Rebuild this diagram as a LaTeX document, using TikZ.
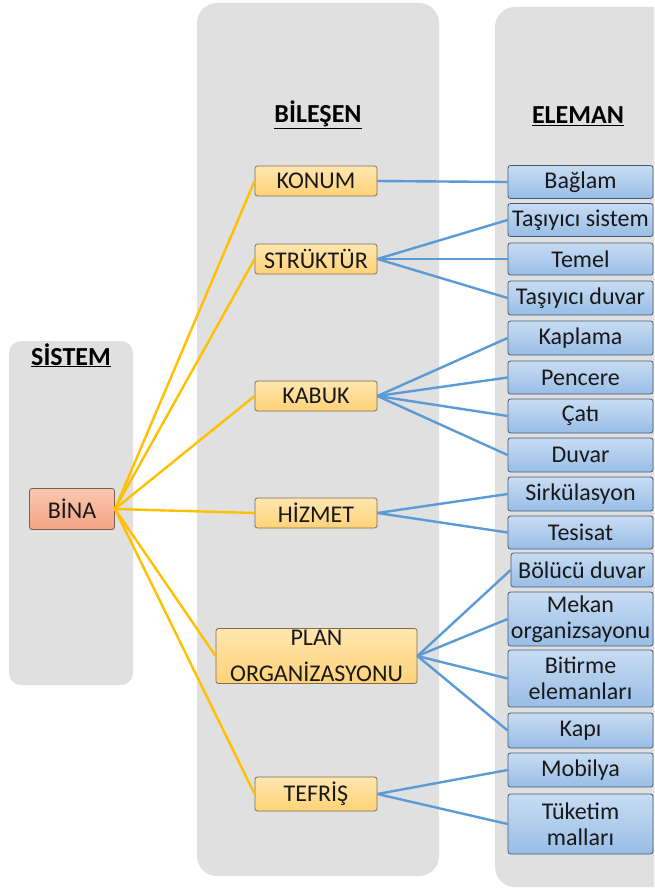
\documentclass[tikz,border=0pt]{standalone}
\usepackage{fontspec}
\setmainfont{Carlito}
\definecolor{panelgray}{RGB}{224,224,224}
\definecolor{linkorange}{RGB}{255,192,0}
\definecolor{linkblue}{RGB}{91,155,213}
\definecolor{compTop}{RGB}{255,230,176}
\definecolor{compBot}{RGB}{255,210,120}
\definecolor{compLine}{RGB}{128,110,80}
\definecolor{elemTop}{RGB}{200,220,243}
\definecolor{elemBot}{RGB}{152,189,230}
\definecolor{elemLine}{RGB}{70,90,115}
\definecolor{sysTop}{RGB}{250,200,176}
\definecolor{sysBot}{RGB}{243,163,130}
\definecolor{sysLine}{RGB}{120,95,85}
\begin{document}
\begin{tikzpicture}[x=1pt,y=-1pt,
  boxtext/.style={font=\fontsize{24}{26}\selectfont, text=black!90, inner sep=0pt, align=center},
  compbox/.style={boxtext, draw=compLine, line width=0.8pt, rounded corners=2.5pt,
    top color=compTop, bottom color=compBot, minimum width=122pt, minimum height=30pt},
  elembox/.style={boxtext, draw=elemLine, line width=0.8pt, rounded corners=2.5pt,
    top color=elemTop, bottom color=elemBot, minimum width=145pt, minimum height=33pt},
  sysbox/.style={boxtext, draw=sysLine, line width=0.8pt, rounded corners=2.5pt,
    top color=sysTop, bottom color=sysBot, minimum width=85pt, minimum height=41pt},
  header/.style={font=\fontsize{26}{28}\bfseries\selectfont, text=black, anchor=base, inner sep=0pt},
  orangelink/.style={draw=linkorange, line width=2.4pt},
  bluelink/.style={draw=linkblue, line width=2.4pt}
]
\useasboundingbox (0,0) rectangle (654,888);
\clip (0,0) rectangle (654,888);

% column backgrounds
\fill[panelgray, rounded corners=12pt] (9,341) rectangle (133,685);
\fill[panelgray, rounded corners=20pt] (197,3) rectangle (439,876);
\fill[panelgray, rounded corners=20pt] (495,7) rectangle (680,887);

% column headers
\node[header] (hsistem) at (71,365) {\underline{SİSTEM}};
\node[header] (hbilesen) at (318,122) {\underline{BİLEŞEN}};
\node[header] (heleman) at (578,124) {\underline{ELEMAN}};

% system
\node[sysbox] (bina) at (72,509) {BİNA};

% components
\node[compbox] (konum) at (316,181) {KONUM};
\node[compbox] (struktur) at (316,259) {STRÜKTÜR};
\node[compbox] (kabuk) at (316,396) {KABUK};
\node[compbox] (hizmet) at (316,513) {HİZMET};
\node[compbox, minimum width=201pt, minimum height=55pt] (plan) at (316.5,656) {PLAN\\[10pt]ORGANİZASYONU};
\node[compbox, minimum height=34pt] (tefris) at (316,794) {TEFRİŞ};

% elements
\node[elembox] (baglam) at (580.5,182) {Bağlam};
\node[elembox] (tasisistem) at (580.5,220) {Taşıyıcı sistem};
\node[elembox, minimum height=32pt] (temel) at (580.5,259) {Temel};
\node[elembox, minimum height=34pt] (tasiduvar) at (580.5,298) {Taşıyıcı duvar};
\node[elembox, minimum height=34pt] (kaplama) at (580.5,338) {Kaplama};
\node[elembox] (pencere) at (580.5,377.5) {Pencere};
\node[elembox, minimum height=34pt] (cati) at (580.5,416) {Çatı};
\node[elembox, minimum height=34pt] (duvar) at (580.5,455) {Duvar};
\node[elembox, minimum height=34pt] (sirkulasyon) at (580.5,494) {Sirkülasyon};
\node[elembox] (tesisat) at (580.5,532.5) {Tesisat};
\node[elembox, minimum width=142pt, minimum height=34pt] (bolucu) at (582,570) {Bölücü duvar};
\node[elembox, minimum height=54pt] (mekan) at (580.5,619) {Mekan\\organizsayonu};
\node[elembox, minimum height=57pt] (bitirme) at (580.5,678.5) {Bitirme\\elemanları};
\node[elembox, minimum height=35pt] (kapi) at (580.5,730.5) {Kapı};
\node[elembox, minimum height=34pt] (mobilya) at (580.5,770) {Mobilya};
\node[elembox, minimum height=60pt] (tuketim) at (580.5,824) {Tüketim\\malları};

% system to components
\foreach \c in {konum,struktur,kabuk,hizmet,plan,tefris}
  \draw[orangelink] (bina.east) -- (\c.west);

% components to elements
\draw[bluelink] (konum.east) -- (baglam.west);
\foreach \e in {tasisistem,temel,tasiduvar}
  \draw[bluelink] (struktur.east) -- (\e.west);
\foreach \e in {kaplama,pencere,cati,duvar}
  \draw[bluelink] (kabuk.east) -- (\e.west);
\foreach \e in {sirkulasyon,tesisat}
  \draw[bluelink] (hizmet.east) -- (\e.west);
\foreach \e in {bolucu,mekan,bitirme,kapi}
  \draw[bluelink] (plan.east) -- (\e.west);
\foreach \e in {mobilya,tuketim}
  \draw[bluelink] (tefris.east) -- (\e.west);
\end{tikzpicture}
\end{document}
